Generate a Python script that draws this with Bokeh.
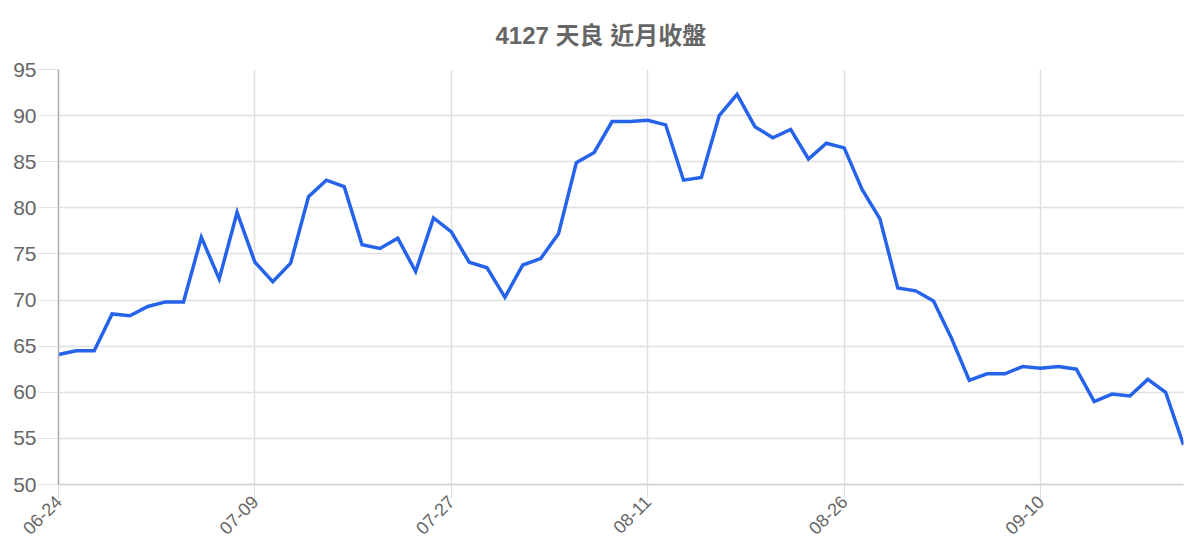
import math
from bokeh.plotting import figure
from bokeh.models import FixedTicker, Range1d, ColumnDataSource
from bokeh.embed import file_html
from bokeh.resources import INLINE

title_text = "4127 天良 近月收盤"

dates = [
    "06-24", "06-25", "06-28", "06-29", "06-30", "07-01", "07-02", "07-05", "07-06", "07-07", "07-08",
    "07-09", "07-12", "07-13", "07-14", "07-15", "07-16", "07-19", "07-20", "07-21", "07-22", "07-26",
    "07-27", "07-28", "07-29", "07-30", "08-02", "08-03", "08-04", "08-05", "08-06", "08-09", "08-10",
    "08-11", "08-12", "08-13", "08-16", "08-17", "08-18", "08-19", "08-20", "08-23", "08-24", "08-25",
    "08-26", "08-27", "08-30", "08-31", "09-01", "09-02", "09-03", "09-06", "09-07", "09-08", "09-09",
    "09-10", "09-13", "09-14", "09-15", "09-16", "09-17", "09-22", "09-23", "09-24",
]

close = [
    64.1, 64.5, 64.5, 68.5, 68.3, 69.3, 69.8, 69.8, 76.8, 72.3, 79.5,
    74.1, 72.0, 74.0, 81.2, 83.0, 82.3, 76.0, 75.6, 76.7, 73.1, 78.9,
    77.4, 74.1, 73.5, 70.3, 73.8, 74.5, 77.2, 84.9, 86.0, 89.35, 89.35,
    89.5, 89.0, 83.0, 83.3, 90.0, 92.3, 88.8, 87.6, 88.5, 85.3, 87.0,
    86.5, 82.0, 78.8, 71.3, 71.0, 69.9, 65.9, 61.3, 62.0, 62.0, 62.8,
    62.6, 62.8, 62.5, 59.0, 59.8, 59.6, 61.4, 60.0, 54.3,
]

y_ticks = [50, 55, 60, 65, 70, 75, 80, 85, 90, 95]
label_every = 11

idx = list(range(len(close)))
src = ColumnDataSource(dict(x=idx, y=close, d=dates))

W, H = 1184, 544
p = figure(width=W, height=H, output_backend="svg", toolbar_location=None,
           x_range=Range1d(0, len(close) - 1), y_range=Range1d(y_ticks[0], y_ticks[-1]),
           min_border_left=58, min_border_right=1, min_border_top=69, min_border_bottom=60,
           title=title_text)
p.outline_line_color = None
p.background_fill_color = "white"
p.border_fill_color = "white"

p.title.text_font = "'Liberation Sans', 'Noto Sans CJK TC', sans-serif"
p.title.text_font_size = "24px"
p.title.text_font_style = "bold"
p.title.text_color = "#666666"
p.title.align = "left"
p.title.offset = 437
p.title.vertical_align = "top"
p.title.standoff = 38

tick_pos = idx[::label_every]
p.xaxis.ticker = FixedTicker(ticks=tick_pos)
p.xaxis.major_label_overrides = {i: dates[i] for i in tick_pos}
p.xaxis.major_label_orientation = math.pi / 4
p.xaxis.major_label_text_font = "Liberation Sans"
p.xaxis.major_label_text_font_size = "18px"
p.xaxis.major_label_text_color = "#666666"
p.xaxis.major_tick_in = 0
p.xaxis.major_tick_out = 14
p.xaxis.major_tick_line_color = "#dddddd"
p.xaxis.minor_tick_line_color = None
p.xaxis.axis_line_color = "#cccccc"
p.xaxis.axis_line_width = 1.5
p.xaxis.major_label_standoff = 0

p.yaxis.ticker = FixedTicker(ticks=y_ticks)
p.yaxis.major_label_text_font = "Liberation Sans"
p.yaxis.major_label_text_font_size = "21px"
p.yaxis.major_label_text_color = "#666666"
p.yaxis.major_tick_in = 0
p.yaxis.major_tick_out = 20
p.yaxis.major_tick_line_color = "#e0e0e0"
p.yaxis.minor_tick_line_color = None
p.yaxis.axis_line_color = "#aaaaaa"
p.yaxis.axis_line_width = 1.5
p.yaxis.major_label_standoff = 2

p.xgrid.ticker = FixedTicker(ticks=tick_pos)
p.xgrid.grid_line_color = "#e0e0e0"
p.ygrid.grid_line_color = "#e0e0e0"
p.xgrid.grid_line_width = 1.5
p.ygrid.grid_line_width = 1.5

p.line("x", "y", source=src, line_color="#2563eb", line_width=3.5, line_join="miter")

open("out.html", "w").write(file_html(p, INLINE))
